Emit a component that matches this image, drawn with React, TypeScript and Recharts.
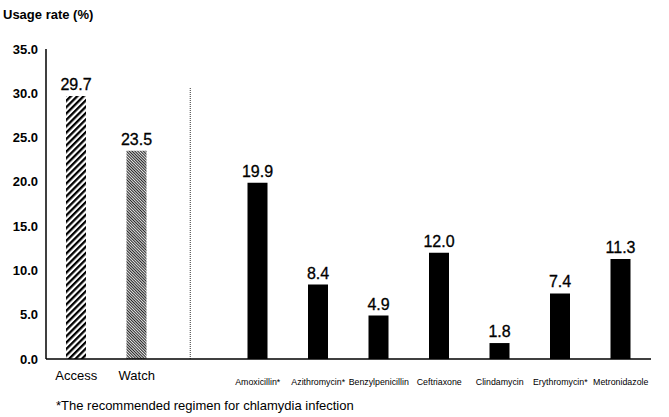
import { Bar, BarChart, Cell, LabelList, ReferenceLine, XAxis, YAxis } from "recharts";

const categories = [
  "Access",
  "Watch",
  "gap",
  "Amoxicillin*",
  "Azithromycin*",
  "Benzylpenicillin",
  "Ceftriaxone",
  "Clindamycin",
  "Erythromycin*",
  "Metronidazole"
];
const usageRates: Array<number | null> = [29.7, 23.5, null, 19.9, 8.4, 4.9, 12.0, 1.8, 7.4, 11.3];
const yTicks = [0, 5, 10, 15, 20, 25, 30, 35];
const groupLabels = ["Access", "Watch"];

const data = categories.map((name, index) => ({ name, rate: usageRates[index] }));

const font = "'Liberation Sans', Arial, sans-serif";

function barFill(name: string) {
  if (name === "Access") return "url(#accessHatch)";
  if (name === "Watch") return "url(#watchHatch)";
  return "#000";
}

function CategoryTick({ x, y, payload }: any) {
  const name = payload.value as string;
  if (name === "gap") return null;
  const big = groupLabels.includes(name);
  return (
    <text
      x={x}
      y={y}
      dy={big ? 21 : 26}
      textAnchor="middle"
      fontFamily={font}
      fontSize={big ? 13 : 8.8}
      fill="#000"
    >
      {name}
    </text>
  );
}

function DividerLine(props: any) {
  // dotted divider sits a little left of the empty slot's centre
  return (
    <line
      x1={props.x1 - 7}
      x2={props.x2 - 7}
      y1={props.y1}
      y2={props.y2}
      stroke="#333"
      strokeWidth={1}
      strokeDasharray="1 1"
    />
  );
}

export default function App() {
  return (
    <div style={{ position: "absolute", left: 0, top: 0, width: 669, height: 417, background: "#fff", fontFamily: font }}>
      <div style={{ position: "absolute", left: 3, top: 7, fontSize: 13, fontWeight: "bold", color: "#000" }}>
        Usage rate (%)
      </div>
      <BarChart
        width={669}
        height={417}
        data={data}
        margin={{ top: 49, right: 18, bottom: 28, left: 0 }}
        barSize={20}
      >
        <defs>
          <pattern id="accessHatch" patternUnits="userSpaceOnUse" width={4.5} height={4.5} patternTransform="rotate(45)">
            <rect width={4.5} height={4.5} fill="#fff" />
            <rect width={2.3} height={4.5} fill="#000" />
          </pattern>
          <pattern id="watchHatch" patternUnits="userSpaceOnUse" width={2} height={2} patternTransform="rotate(-45)">
            <rect width={2} height={2} fill="#fff" />
            <rect width={1.1} height={2} fill="#222" />
          </pattern>
        </defs>
        <XAxis
          dataKey="name"
          interval={0}
          tickLine={false}
          tickSize={0}
          tickMargin={0}
          height={30}
          axisLine={{ stroke: "#000", strokeWidth: 1.5 }}
          tick={<CategoryTick />}
        />
        <YAxis
          width={46}
          domain={[0, 35]}
          ticks={yTicks}
          tickLine={false}
          axisLine={{ stroke: "#000", strokeWidth: 1.5 }}
          tickFormatter={(v: number) => v.toFixed(1)}
          tick={{ fontFamily: font, fontSize: 13, fontWeight: "bold", fill: "#000" }}
        />
        <ReferenceLine
          segment={[
            { x: "gap", y: 0 },
            { x: "gap", y: 30.6 }
          ]}
          shape={<DividerLine />}
          ifOverflow="visible"
        />
        <Bar dataKey="rate" isAnimationActive={false}>
          {data.map((entry) => (
            <Cell key={entry.name} fill={barFill(entry.name)} />
          ))}
          <LabelList
            dataKey="rate"
            position="top"
            offset={6}
            fontFamily={font}
            fontSize={16}
            fill="#000"
            stroke="#000"
            strokeWidth={0.3}
            formatter={(v: any) => (v == null ? "" : Number(v).toFixed(1))}
          />
        </Bar>
      </BarChart>
      <div style={{ position: "absolute", left: 56, top: 398, fontSize: 13, color: "#000" }}>
        *The recommended regimen for chlamydia infection
      </div>
    </div>
  );
}
